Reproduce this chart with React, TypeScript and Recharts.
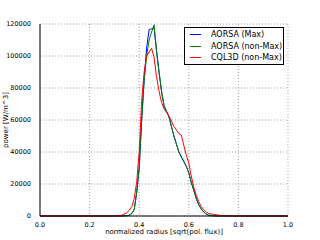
import { LineChart, Line, XAxis, YAxis, CartesianGrid } from 'recharts';

const radius = [0, 0.3, 0.33, 0.35, 0.36, 0.37, 0.38, 0.39, 0.4, 0.41, 0.42, 0.43, 0.44, 0.45, 0.46, 0.47, 0.48, 0.49, 0.5, 0.52, 0.54, 0.56, 0.57, 0.58, 0.59, 0.6, 0.61, 0.62, 0.63, 0.64, 0.65, 0.66, 0.67, 0.68, 0.7, 0.72, 0.75, 0.8, 1.0];
const aorsaMax = [0, 0, 0, 200, 500, 1500, 4000, 15000, 30000, 60000, 85000, 105000, 116500, 117000, 117500, 103000, 90000, 78000, 69000, 62000, 50000, 40000, 37000, 34000, 31000, 27000, 21000, 16000, 11000, 7000, 4500, 2500, 1200, 500, 100, 0, 0, 0, 0];
const aorsaNonMax = [0, 0, 0, 200, 500, 1500, 4000, 15000, 30000, 60000, 85000, 100000, 110000, 115000, 119500, 103000, 90000, 78000, 69000, 62000, 50000, 40000, 37000, 34000, 31000, 27000, 21000, 16000, 11000, 7000, 4500, 2500, 1200, 500, 100, 0, 0, 0, 0];
const cql3d = [0, 0, 500, 2000, 3700, 5800, 11000, 21500, 40000, 72000, 90000, 100000, 102500, 104800, 99000, 87000, 78000, 71000, 67000, 62500, 56000, 51500, 50500, 44000, 38000, 33000, 25000, 18000, 13000, 9000, 6000, 4000, 2500, 1600, 1000, 500, 100, 0, 0];

const xTicks = [0, 0.2, 0.4, 0.6, 0.8, 1.0];
const yTicks = [0, 20000, 40000, 60000, 80000, 100000, 120000];

const seriesNames = ['AORSA (Max)', 'AORSA (non-Max)', 'CQL3D (non-Max)'];
const seriesColors = ['#0000ff', '#008000', '#ff0000'];

const data = radius.map((r, i) => ({
  r,
  max: aorsaMax[i],
  nonMax: aorsaNonMax[i],
  cql: cql3d[i],
}));

const font = 'DejaVu Sans, sans-serif';

function LegendBox() {
  return (
    <div
      style={{
        position: 'absolute',
        left: 184,
        top: 27,
        width: 100,
        height: 38,
        boxSizing: 'border-box',
        border: '1px solid #000',
        background: '#fff',
        padding: '1px 0 0 5px',
        fontFamily: font,
        fontSize: 8,
        lineHeight: '11.5px',
      }}
    >
      {seriesNames.map((name, i) => (
        <div key={name} style={{ display: 'flex', alignItems: 'center', whiteSpace: 'nowrap' }}>
          <span style={{ display: 'inline-block', width: 11, height: 1, background: seriesColors[i], marginRight: 10 }} />
          <span>{name}</span>
        </div>
      ))}
    </div>
  );
}

export default function App() {
  return (
    <div style={{ position: 'absolute', left: 0, top: 0, width: 320, height: 240, background: '#fff' }}>
      <LineChart width={320} height={240} data={data} margin={{ top: 24, right: 32, bottom: 0, left: 0 }}>
        <CartesianGrid stroke="#888" strokeDasharray="1 2" strokeWidth={0.8} />
        <XAxis
          dataKey="r"
          type="number"
          domain={[0, 1]}
          ticks={xTicks}
          tickFormatter={(v: number) => v.toFixed(1)}
          height={24}
          tickLine={false}
          axisLine={{ stroke: '#000' }}
          tick={{ fontSize: 6.5, fill: '#000', fontFamily: font }}
          tickMargin={0}
          label={{ value: 'normalized radius [sqrt(pol. flux)]', position: 'insideBottom', offset: 6, fontSize: 7, fill: '#000', fontFamily: font }}
        />
        <XAxis xAxisId="top" orientation="top" dataKey="r" type="number" domain={[0, 1]} height={0} tick={false} tickLine={false} axisLine={{ stroke: '#000' }} />
        <YAxis
          type="number"
          domain={[0, 120000]}
          ticks={yTicks}
          width={40}
          tickLine={false}
          axisLine={{ stroke: '#000' }}
          tick={{ fontSize: 6.5, fill: '#000', fontFamily: font }}
          tickMargin={3}
          label={{ value: 'power [W/m^3]', angle: -90, position: 'insideLeft', offset: 6, style: { textAnchor: 'middle' }, fontSize: 7, fill: '#000', fontFamily: font }}
        />
        <YAxis yAxisId="right" orientation="right" domain={[0, 120000]} width={0} tick={false} tickLine={false} axisLine={{ stroke: '#000' }} />
        <Line dataKey="max" name={seriesNames[0]} stroke={seriesColors[0]} strokeWidth={1} dot={false} isAnimationActive={false} />
        <Line dataKey="nonMax" name={seriesNames[1]} stroke={seriesColors[1]} strokeWidth={1} dot={false} isAnimationActive={false} />
        <Line dataKey="cql" name={seriesNames[2]} stroke={seriesColors[2]} strokeWidth={1} dot={false} isAnimationActive={false} />
      </LineChart>
      <LegendBox />
    </div>
  );
}
